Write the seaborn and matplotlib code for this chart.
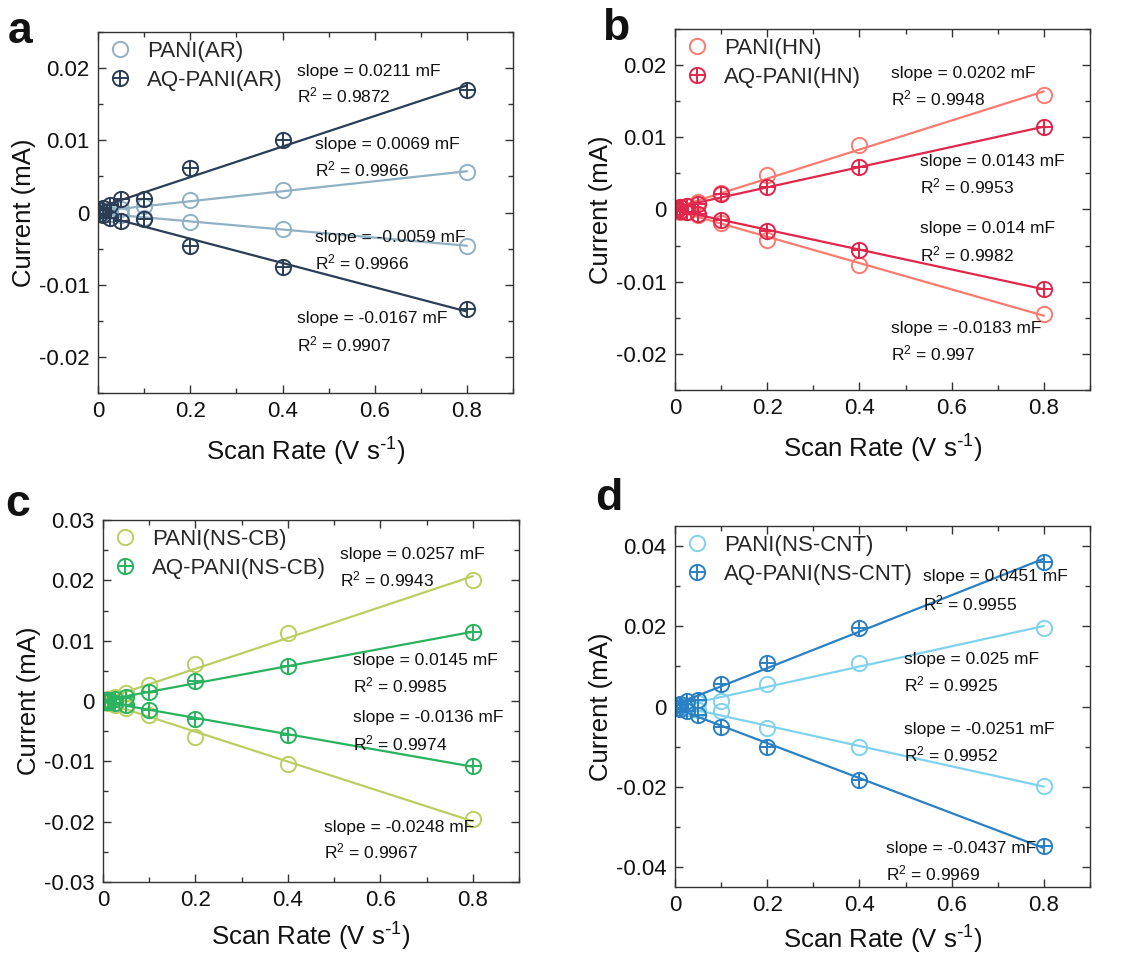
import numpy as np
import pandas as pd
import matplotlib
matplotlib.use("Agg")
import matplotlib.pyplot as plt
from matplotlib.lines import Line2D
from matplotlib.ticker import MultipleLocator
import seaborn as sns

sns.set_style("ticks")
plt.rcParams["font.family"] = ["Liberation Sans", "DejaVu Sans"]
plt.rcParams["mathtext.default"] = "regular"

# ---------------- data ----------------
scan_rate = [0.005, 0.01, 0.025, 0.05, 0.1, 0.2, 0.4, 0.8]

# panel a : AR
a_pani_up = [0.0001, 0.0002, 0.0003, 0.0005, 0.0009, 0.0017, 0.0031, 0.0056]
a_pani_dn = [-0.0001, -0.0001, -0.0002, -0.0004, -0.0008, -0.0013, -0.0023, -0.0046]
a_aq_up = [0.0003, 0.0006, 0.0011, 0.0019, 0.0019, 0.0062, 0.0101, 0.0169]
a_aq_dn = [-0.0002, -0.0004, -0.0007, -0.0012, -0.0009, -0.0046, -0.0076, -0.0133]

# panel b : HN
b_pani_up = [0.0002, 0.0003, 0.0005, 0.0010, 0.0023, 0.0048, 0.0090, 0.0159]
b_pani_dn = [-0.0002, -0.0003, -0.0004, -0.0008, -0.0019, -0.0042, -0.0077, -0.0145]
b_aq_up = [0.0002, 0.0003, 0.0005, 0.0008, 0.0022, 0.0031, 0.0059, 0.0114]
b_aq_dn = [-0.0001, -0.0002, -0.0004, -0.0006, -0.0014, -0.0030, -0.0056, -0.0110]

# panel c : NS-CB
c_pani_up = [0.0001, 0.0003, 0.0006, 0.0013, 0.0026, 0.0062, 0.0113, 0.0201]
c_pani_dn = [-0.0001, -0.0003, -0.0006, -0.0012, -0.0024, -0.0059, -0.0104, -0.0196]
c_aq_up = [0.0001, 0.0002, 0.0004, 0.0007, 0.0015, 0.0033, 0.0058, 0.0114]
c_aq_dn = [-0.0001, -0.0002, -0.0004, -0.0007, -0.0015, -0.0030, -0.0056, -0.0108]

# panel d : NS-CNT
d_pani_up = [0.0001, 0.0002, 0.0004, 0.0008, 0.0013, 0.0057, 0.0108, 0.0196]
d_pani_dn = [-0.0001, -0.0002, -0.0004, -0.0008, -0.0012, -0.0053, -0.0102, -0.0198]
d_aq_up = [0.0004, 0.0007, 0.0013, 0.0017, 0.0055, 0.0108, 0.0196, 0.0361]
d_aq_dn = [-0.0003, -0.0006, -0.0012, -0.0020, -0.0052, -0.0102, -0.0183, -0.0348]

labels_a = ["PANI(AR)", "AQ-PANI(AR)"]
labels_b = ["PANI(HN)", "AQ-PANI(HN)"]
labels_c = ["PANI(NS-CB)", "AQ-PANI(NS-CB)"]
labels_d = ["PANI(NS-CNT)", "AQ-PANI(NS-CNT)"]

notes_a = [("0.0211", "0.9872"), ("0.0069", "0.9966"), ("-0.0059", "0.9966"), ("-0.0167", "0.9907")]
notes_b = [("0.0202", "0.9948"), ("0.0143", "0.9953"), ("0.014", "0.9982"), ("-0.0183", "0.997")]
notes_c = [("0.0257", "0.9943"), ("0.0145", "0.9985"), ("-0.0136", "0.9974"), ("-0.0248", "0.9967")]
notes_d = [("0.0451", "0.9955"), ("0.025", "0.9925"), ("-0.0251", "0.9952"), ("-0.0437", "0.9969")]

# ---------------- style ----------------
colors = {
    "a": ("#8fb1c3", "#2b3d55"),
    "b": ("#fb7b70", "#e0264b"),
    "c": ("#bccd62", "#29b35f"),
    "d": ("#80d2ec", "#2a80c2"),
}

panels = [
    ("a", [0.0867, 0.5893, 0.367, 0.3773], (-0.025, 0.025), 0.01, 0.005,
     a_pani_up, a_pani_dn, a_aq_up, a_aq_dn, labels_a, notes_a,
     [(0.431, 0.0195, 0.0162), (0.47, 0.0094, 0.0060), (0.47, -0.0034, -0.0069), (0.431, -0.0147, -0.0183)],
     (0.007, 0.988), 10),
    ("b", [0.5968, 0.5925, 0.367, 0.3772], (-0.025, 0.025), 0.01, 0.005,
     b_pani_up, b_pani_dn, b_aq_up, b_aq_dn, labels_b, notes_b,
     [(0.469, 0.01885, 0.0154), (0.532, 0.0066, 0.0032), (0.532, -0.0026, -0.0062), (0.469, -0.01655, -0.0200)],
     (0.532, 0.992), 10),
    ("c", [0.0911, 0.0784, 0.3678, 0.3782], (-0.03, 0.03), 0.01, 0.005,
     c_pani_up, c_pani_dn, c_aq_up, c_aq_dn, labels_c, notes_c,
     [(0.513, 0.0243, 0.0202), (0.5415, 0.0067, 0.0026), (0.5415, -0.0028, -0.0070), (0.478, -0.0209, -0.0249)],
     (0.005, 0.494), 7),
    ("d", [0.5968, 0.0731, 0.367, 0.3773], (-0.045, 0.045), 0.02, 0.01,
     d_pani_up, d_pani_dn, d_aq_up, d_aq_dn, labels_d, notes_d,
     [(0.538, 0.0323, 0.0258), (0.496, 0.0117, 0.0055), (0.496, -0.0058, -0.0120), (0.458, -0.0353, -0.0416)],
     (0.526, 0.500), 5),
]

fig = plt.figure(figsize=(11.31, 9.57), dpi=100)

MS = 11
MEW = 1.4
for (key, pos, ylim, ymaj, ymin, p_up, p_dn, q_up, q_dn, labels, notes, note_pos, letter_pos, xpad) in panels:
    ax = fig.add_axes(pos)
    c_p, c_q = colors[key]
    df = pd.DataFrame({
        "rate": scan_rate * 4,
        "current": p_up + p_dn + q_up + q_dn,
        "sample": ["pani"] * 16 + ["aq"] * 16,
        "branch": (["up"] * 8 + ["dn"] * 8) * 2,
    })
    for samp, col in (("pani", c_p), ("aq", c_q)):
        for br in ("up", "dn"):
            sub = df[(df["sample"] == samp) & (df["branch"] == br)]
            sns.regplot(data=sub, x="rate", y="current", scatter=False, ci=None,
                        color=col, line_kws=dict(lw=1.6), ax=ax)
            sns.lineplot(data=sub, x="rate", y="current", ax=ax, estimator=None,
                         sort=False, linestyle="", marker="o", markersize=MS,
                         markerfacecolor="none", markeredgecolor=col,
                         markeredgewidth=MEW, color=col)
            if samp == "aq":
                sns.lineplot(data=sub, x="rate", y="current", ax=ax, estimator=None,
                             sort=False, linestyle="", marker="+", markersize=MS,
                             markeredgecolor=col, markerfacecolor=col,
                             markeredgewidth=MEW, color=col)

    ax.set_xlim(0, 0.9)
    ax.set_ylim(*ylim)
    ax.xaxis.set_major_locator(MultipleLocator(0.2))
    ax.xaxis.set_minor_locator(MultipleLocator(0.1))
    ax.yaxis.set_major_locator(MultipleLocator(ymaj))
    ax.yaxis.set_minor_locator(MultipleLocator(ymin))
    ax.tick_params(which="both", direction="in", top=True, right=True,
                   colors="#333333", labelcolor="#111111", labelsize=16)
    ax.tick_params(which="major", length=6, width=1, pad=6)
    ax.tick_params(which="minor", length=3.5, width=1)
    ax.xaxis.set_major_formatter(plt.FuncFormatter(lambda v, p: "0" if abs(v) < 1e-9 else f"{v:g}"))
    ax.yaxis.set_major_formatter(plt.FuncFormatter(lambda v, p: "0" if abs(v) < 1e-9 else f"{v:g}"))
    for sp in ax.spines.values():
        sp.set_color("#333333")
        sp.set_linewidth(1)
    ax.set_xlabel("Scan Rate (V s$^{\\text{-}1}$)", fontsize=18.5, labelpad=xpad, color="#111111")
    ax.set_ylabel("Current (mA)", fontsize=18.5, labelpad=2, color="#111111")

    h1 = Line2D([], [], ls="", marker="o", ms=MS, mfc="none", mec=c_p, mew=MEW)
    h2o = Line2D([], [], ls="", marker="o", ms=MS, mfc="none", mec=c_q, mew=MEW)
    h2p = Line2D([], [], ls="", marker="+", ms=MS, color=c_q, mew=MEW)
    ax.legend([h1, (h2o, h2p)], labels, loc="upper left", frameon=False,
              fontsize=16, handletextpad=0.6, labelspacing=0.35,
              borderaxespad=0.1, handlelength=1.2, borderpad=0.3)

    for (sl, r2), (nx, ny1, ny2) in zip(notes, note_pos):
        ax.text(nx, ny1, f"slope = {sl} mF", fontsize=12.5, va="center", ha="left", color="#111111")
        ax.text(nx, ny2, f"R$^2$ = {r2}", fontsize=12.5, va="center", ha="left", color="#111111")

    fig.text(letter_pos[0], letter_pos[1], key, fontsize=32, fontweight="bold",
             va="top", ha="left", color="#111111")

fig.savefig("out.png", dpi=100)
